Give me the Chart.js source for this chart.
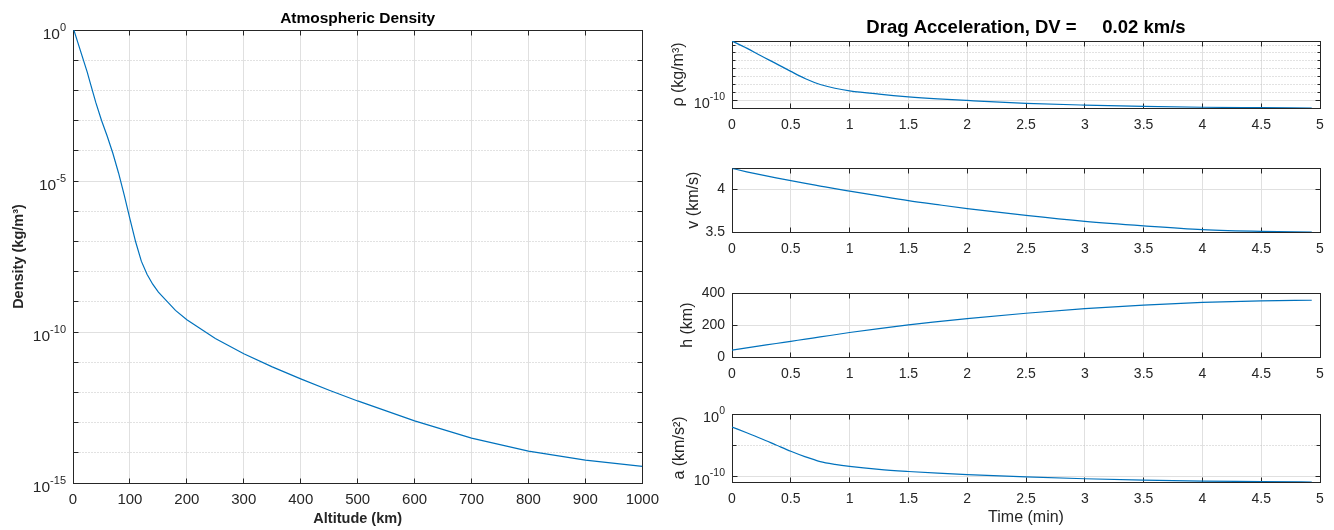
<!DOCTYPE html>
<html>
<head>
<meta charset="utf-8">
<script src="https://cdn.jsdelivr.net/npm/chart.js@4/dist/chart.umd.min.js"></script>
<style>
  html, body { margin: 0; padding: 0; background: #fff; }
  #fig { position: relative; width: 1334px; height: 530px; overflow: hidden; }
  canvas { position: absolute; }
</style>
</head>
<body>
<div id="fig">
  <canvas id="densityChart"></canvas>
  <canvas id="rhoChart"></canvas>
  <canvas id="velChart"></canvas>
  <canvas id="altChart"></canvas>
  <canvas id="accChart"></canvas>
</div>
<script>
// Atmosphere table (left plot)
const altitudeKm = [0, 25, 30, 40, 50, 60, 70, 80, 90, 100, 110, 120, 130, 140, 150, 180, 200, 250, 300, 350, 400, 450, 500, 600, 700, 800, 900, 1000];
const densityKgM3 = [1.225, 4.008e-2, 1.841e-2, 3.996e-3, 1.027e-3, 3.097e-4, 8.283e-5, 1.846e-5, 3.416e-6, 5.606e-7, 9.708e-8, 2.222e-8, 8.152e-9, 3.831e-9, 2.076e-9, 5.194e-10, 2.541e-10, 6.073e-11, 1.916e-11, 7.014e-12, 2.803e-12, 1.184e-12, 5.215e-13, 1.137e-13, 3.070e-14, 1.136e-14, 5.759e-15, 3.561e-15];

// Drag run (right plots)
const timeMin = [0, 0.125, 0.25, 0.375, 0.5, 0.625, 0.75, 0.875, 1, 1.25, 1.5, 1.75, 2, 2.5, 3, 3.5, 4, 4.5, 4.93];
const rhoRun = [3.2e-3, 4.0e-4, 4.0e-5, 4.5e-6, 4.7e-7, 5.6e-8, 1.05e-8, 3.5e-9, 1.66e-9, 6.3e-10, 2.9e-10, 1.6e-10, 1.0e-10, 4.4e-11, 2.6e-11, 1.75e-11, 1.4e-11, 1.23e-11, 1.12e-11];
const speedRun = [4.25, 4.21, 4.173, 4.138, 4.105, 4.073, 4.042, 4.011, 3.982, 3.925, 3.870, 3.822, 3.776, 3.695, 3.625, 3.572, 3.528, 3.507, 3.50];
const heightRun = [43, 57, 71, 85, 98.6, 112.5, 126, 140, 154, 179, 202, 222, 241, 275, 304, 326, 343, 353, 357];
const accelRun = [8.3e-3, 1.0e-3, 1.12e-4, 1.12e-5, 1.12e-6, 1.41e-7, 2.5e-8, 8.9e-9, 4.2e-9, 1.4e-9, 6.5e-10, 3.5e-10, 2.1e-10, 8.9e-11, 4.5e-11, 2.6e-11, 1.9e-11, 1.6e-11, 1.35e-11];

// Tick labels
const altTicksStep = 100;
const timeTicksStep = 0.5;
const densityMajorExp = [0, -5, -10, -15];
const densityMinorExp = [-1, -2, -3, -4, -6, -7, -8, -9, -11, -12, -13, -14];
const rhoMajorExp = [-10];
const rhoMinorExp = [-3, -4, -5, -6, -7, -8, -9];
const speedTicks = [3.5, 4];
const accelMajorExp = [0, -10];
const accelMinorExp = [-5];

const FONT = "'Liberation Sans', Arial, Helvetica, sans-serif";
const INK = '#262626';
const BLUE = '#0072bd';
const GRID = '#e0e0e0';
const MINOR = '#c4c4c4';

Chart.defaults.font.family = FONT;
Chart.defaults.color = INK;
Chart.defaults.animation = false;
Chart.defaults.events = [];

const al = p => Math.round(p - 0.5) + 0.5;
const pts = (xs, ys) => xs.map((x, i) => ({ x, y: ys[i] }));

// MATLAB-style frame: dotted decade grid, box, inward ticks, 10^n labels
const frame = (cfg) => ({
  id: 'frame',
  beforeDatasetsDraw(chart) {
    const { ctx, chartArea: a, scales: { x, y } } = chart;
    const L = al(a.left), R = al(a.right), T = al(a.top), B = al(a.bottom);
    const minors = cfg.minorExp || [];
    ctx.save();
    ctx.lineWidth = 1;
    ctx.strokeStyle = MINOR;
    ctx.setLineDash([1, 2]);
    minors.forEach(e => {
      const py = al(y.getPixelForValue(Math.pow(10, e)));
      ctx.beginPath(); ctx.moveTo(L, py); ctx.lineTo(R, py); ctx.stroke();
    });
    ctx.setLineDash([]);
    ctx.strokeStyle = INK;
    ctx.beginPath();
    x.ticks.forEach(t => {
      const px = al(x.getPixelForValue(t.value));
      ctx.moveTo(px, T); ctx.lineTo(px, T + cfg.tickLen);
      ctx.moveTo(px, B); ctx.lineTo(px, B - cfg.tickLen);
    });
    const yTick = (v, len) => {
      const py = al(y.getPixelForValue(v));
      ctx.moveTo(L, py); ctx.lineTo(L + len, py);
      ctx.moveTo(R, py); ctx.lineTo(R - len, py);
    };
    y.ticks.forEach(t => yTick(t.value, cfg.tickLen));
    minors.forEach(e => yTick(Math.pow(10, e), cfg.minorLen));
    ctx.stroke();
    ctx.strokeRect(L, T, R - L, B - T);
    ctx.restore();
  },
  afterDraw(chart) {
    if (!cfg.majorExp) return;
    const { ctx, chartArea: a, scales: { y } } = chart;
    ctx.save();
    ctx.fillStyle = INK;
    ctx.textBaseline = 'middle';
    ctx.textAlign = 'left';
    cfg.majorExp.forEach(e => {
      const py = y.getPixelForValue(Math.pow(10, e));
      const sup = String(e);
      ctx.font = `${cfg.supSize}px ${FONT}`;
      const w2 = ctx.measureText(sup).width;
      ctx.font = `${cfg.baseSize}px ${FONT}`;
      const w1 = ctx.measureText('10').width;
      const right = a.left - 7;
      ctx.fillText('10', right - w2 - w1, py + cfg.dyBase);
      ctx.font = `${cfg.supSize}px ${FONT}`;
      ctx.fillText(sup, right - w2, py + cfg.dySup);
    });
    ctx.restore();
  }
});

// size and place a canvas so the plot area lands on the given box
const place = (id, area, m) => {
  const c = document.getElementById(id);
  const w = area.r - area.l + m.l + m.r;
  const h = area.b - area.t + m.t + m.b;
  c.width = w; c.height = h;
  c.style.left = (area.l - m.l) + 'px';
  c.style.top = (area.t - m.t) + 'px';
  c.style.width = w + 'px';
  c.style.height = h + 'px';
  return c;
};

const xAxis = (min, max, step, size, pad, fixH, title) => ({
  type: 'linear', min, max,
  ticks: { stepSize: step, autoSkip: false, maxRotation: 0, padding: pad, font: { size }, color: INK, callback: v => String(v) },
  grid: { color: GRID, drawTicks: false },
  border: { display: false },
  title: title ? { display: true, text: title.text, font: title.font, color: INK, padding: { top: 0, bottom: title.pb } } : { display: false },
  afterFit: s => { s.height = fixH; }
});

const logAxis = (min, max, majors, fixW, title) => ({
  type: 'logarithmic', min, max,
  ticks: { display: false },
  grid: { color: GRID, drawTicks: false },
  border: { display: false },
  afterBuildTicks: s => { s.min = min; s.max = max; s.ticks = majors.map(e => ({ value: Math.pow(10, e) })); },
  title: { display: true, text: title.text, font: title.font, color: INK, padding: { top: title.pt, bottom: 0 } },
  afterFit: s => { s.width = fixW; }
});

const linAxis = (min, max, ticks, size, fixW, title) => ({
  type: 'linear', min, max,
  ticks: { padding: 7, font: { size }, color: INK, callback: v => String(v) },
  grid: { color: GRID, drawTicks: false },
  border: { display: false },
  afterBuildTicks: s => { s.min = min; s.max = max; s.ticks = ticks.map(v => ({ value: v })); },
  title: { display: true, text: title.text, font: title.font, color: INK, padding: { top: title.pt, bottom: 0 } },
  afterFit: s => { s.width = fixW; }
});

const lineSet = (data, smooth) => ({
  data,
  borderColor: BLUE,
  borderWidth: 1.2,
  pointRadius: 0,
  fill: false,
  cubicInterpolationMode: smooth ? 'monotone' : 'default',
  tension: 0
});

const baseOptions = (pad, scales, title) => ({
  responsive: false,
  maintainAspectRatio: false,
  layout: { padding: pad },
  plugins: {
    legend: { display: false },
    tooltip: { enabled: false },
    title: title || { display: false }
  },
  scales
});

// Left: Atmospheric Density
const densArea = { l: 73, t: 30, r: 647, b: 483 };
const densM = { l: 73, t: 30, r: 20, b: 47 };
place('densityChart', densArea, densM);
new Chart(document.getElementById('densityChart'), {
  type: 'line',
  data: { datasets: [lineSet(pts(altitudeKm, densityKgM3), false)] },
  options: baseOptions({ top: 0, right: densM.r, left: 0, bottom: 0 }, {
    x: xAxis(0, 1000, altTicksStep, 15, 8, densM.b, { text: 'Altitude (km)', font: { size: 14.5, weight: 'bold' }, pb: 2.3 }),
    y: logAxis(1e-15, 1, densityMajorExp, densM.l, { text: 'Density (kg/m³)', font: { size: 14.5, weight: 'bold' }, pt: 10.3 })
  }, {
    display: true, text: 'Atmospheric Density', color: '#000', fullSize: false,
    font: { size: 15.5, weight: 'bold' }, padding: { top: 9, bottom: 2.4 }
  }),
  plugins: [frame({ majorExp: densityMajorExp, minorExp: densityMinorExp, tickLen: 5, minorLen: 5, baseSize: 15.5, supSize: 11, dyBase: 5, dySup: -2 })]
});

// Right column
const rightL = 732, rightR = 1320;
const subFont = { size: 16 };

// rho
const rhoArea = { l: rightL, t: 41, r: rightR, b: 108 };
const rhoM = { l: 72, t: 41, r: 14, b: 26 };
place('rhoChart', rhoArea, rhoM);
new Chart(document.getElementById('rhoChart'), {
  type: 'line',
  data: { datasets: [lineSet(pts(timeMin, rhoRun), true)] },
  options: baseOptions({ top: 0, right: rhoM.r, left: 0, bottom: 0 }, {
    x: xAxis(0, 5, timeTicksStep, 14, 8.6, rhoM.b, null),
    y: logAxis(Math.min(...rhoRun), Math.max(...rhoRun), rhoMajorExp, rhoM.l, { text: 'ρ (kg/m³)', font: subFont, pt: 9.4 })
  }, {
    display: true, text: 'Drag Acceleration, DV =     0.02 km/s', color: '#000', fullSize: false,
    font: { size: 18.5, weight: 'bold' }, padding: { top: 16.9, bottom: 1.9 }
  }),
  plugins: [frame({ majorExp: rhoMajorExp, minorExp: rhoMinorExp, tickLen: 5, minorLen: 3, baseSize: 14.5, supSize: 10.5, dyBase: 4, dySup: -3 })]
});

// v
const velArea = { l: rightL, t: 165, r: rightR, b: 232 };
const velM = { l: 72, t: 12, r: 14, b: 26 };
place('velChart', velArea, velM);
new Chart(document.getElementById('velChart'), {
  type: 'line',
  data: { datasets: [lineSet(pts(timeMin, speedRun), true)] },
  options: baseOptions({ top: velM.t, right: velM.r, left: 0, bottom: 0 }, {
    x: xAxis(0, 5, timeTicksStep, 14, 8.6, velM.b, null),
    y: linAxis(3.5, 4.25, speedTicks, 14, velM.l, { text: 'v (km/s)', font: subFont, pt: 24.4 })
  }),
  plugins: [frame({ tickLen: 5 })]
});

// h
const altArea = { l: rightL, t: 290, r: rightR, b: 357 };
const altM = { l: 72, t: 12, r: 14, b: 26 };
place('altChart', altArea, altM);
new Chart(document.getElementById('altChart'), {
  type: 'line',
  data: { datasets: [lineSet(pts(timeMin, heightRun), true)] },
  options: baseOptions({ top: altM.t, right: altM.r, left: 0, bottom: 0 }, {
    x: xAxis(0, 5, timeTicksStep, 14, 8.6, altM.b, null),
    y: linAxis(0, 400, [0, 200, 400], 14, altM.l, { text: 'h (km)', font: subFont, pt: 18.4 })
  }),
  plugins: [frame({ tickLen: 5 })]
});

// a
const accArea = { l: rightL, t: 414, r: rightR, b: 482 };
const accM = { l: 72, t: 12, r: 14, b: 48 };
place('accChart', accArea, accM);
new Chart(document.getElementById('accChart'), {
  type: 'line',
  data: { datasets: [lineSet(pts(timeMin, accelRun), true)] },
  options: baseOptions({ top: accM.t, right: accM.r, left: 0, bottom: 0 }, {
    x: xAxis(0, 5, timeTicksStep, 14, 8.6, accM.b, { text: 'Time (min)', font: subFont, pb: 2.9 }),
    y: logAxis(Math.min(...accelRun), 1, accelMajorExp, accM.l, { text: 'a (km/s²)', font: subFont, pt: 10.4 })
  }),
  plugins: [frame({ majorExp: accelMajorExp, minorExp: accelMinorExp, tickLen: 5, minorLen: 4, baseSize: 14.5, supSize: 10.5, dyBase: 4, dySup: -3 })]
});
</script>
</body>
</html>
